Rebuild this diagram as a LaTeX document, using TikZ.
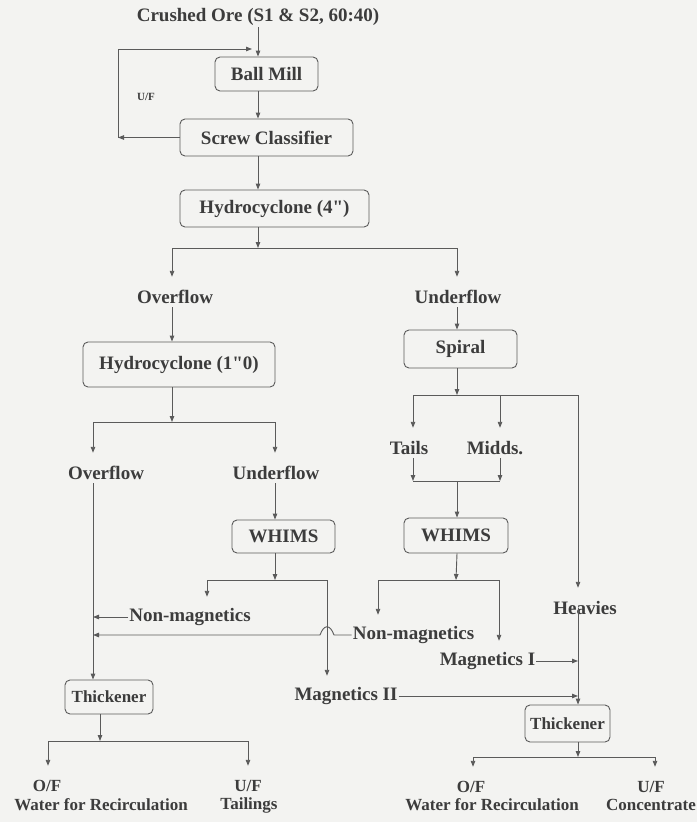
\documentclass[tikz,border=0pt]{standalone}
\usepackage{fontspec}
\setmainfont{Liberation Serif}[Ligatures=TeXOff]
\usetikzlibrary{arrows.meta,calc}
\definecolor{bgc}{HTML}{F3F3F1}
\definecolor{ink}{HTML}{3C3C3C}
\definecolor{linec}{HTML}{5A5A5A}
\begin{document}
\begin{tikzpicture}[x=1pt,y=-1pt,
  lbl/.style={text=ink, font=\fontsize{19}{22}\selectfont\bfseries, inner xsep=1pt, inner ysep=0pt, minimum height=20pt},
  slbl/.style={lbl, font=\fontsize{17}{19}\selectfont\bfseries},
  tiny/.style={lbl, font=\fontsize{11}{13}\selectfont\bfseries},
  box/.style={draw=linec, line width=0.9pt, rounded corners=5pt, text=ink, font=\fontsize{19}{22}\selectfont\bfseries, inner sep=0pt},
  sbox/.style={box, font=\fontsize{17}{19}\selectfont\bfseries},
  ln/.style={draw=linec, line width=0.9pt},
  arr/.style={ln, -{Triangle[length=6pt,width=4.5pt]}},
  tarr/.style={arr, shorten >=10pt}]
\fill[bgc] (0,0) rectangle (697,822);
\useasboundingbox (0,0) rectangle (697,822);

% columns
\coordinate (xa) at (258,0);
\coordinate (xo) at (172,0);
\coordinate (xl) at (93,0);
\coordinate (xu) at (275,0);
\coordinate (xm) at (327,0);
\coordinate (xs) at (457,0);
\coordinate (xh) at (578,0);
\coordinate (xt) at (100,0);

% labels and boxes
\node[lbl] (crushed) at (258,17) {Crushed Ore (S1 \& S2, 60:40)};
\node[box, minimum width=103pt, minimum height=34pt] (ballmill) at (266.5,74) {Ball Mill};
\node[box, minimum width=173pt, minimum height=37pt] (screw) at (266.5,137.5) {Screw Classifier};
\node[tiny] (uf) at (146,97) {U/F};
\node[box, minimum width=189pt, minimum height=37pt] (hc4) at (274.5,208.5) {Hydrocyclone (4")};

\node[lbl] (ov1) at (175,297) {Overflow};
\node[lbl] (un1) at (458,297) {Underflow};
\node[box, minimum width=192pt, minimum height=45pt] (hc1) at (179,364.5) {Hydrocyclone (1"0)};
\node[box, minimum width=113pt, minimum height=38pt] (spiral) at (460.5,349) {Spiral};

\node[lbl] (ov2) at (106,473) {Overflow};
\node[lbl] (un2) at (276,473) {Underflow};
\node[lbl] (tails) at (409,448) {Tails};
\node[lbl] (midds) at (495,448) {Midds.};

\node[box, minimum width=103pt, minimum height=33pt] (whimsL) at (283.5,536.5) {WHIMS};
\node[box, minimum width=104pt, minimum height=35pt] (whimsR) at (456,535.5) {WHIMS};

\node[lbl] (nonmagL) at (190,617) {Non-magnetics};
\node[lbl] (nonmagR) at (413.5,635) {Non-magnetics};
\node[lbl] (heavies) at (585,608) {Heavies};
\node[lbl] (magI) at (487.5,661) {Magnetics I};
\node[lbl] (magII) at (346,696) {Magnetics II};

\node[sbox, minimum width=88pt, minimum height=34pt] (thickL) at (109,697) {Thickener};
\node[sbox, minimum width=85pt, minimum height=37pt] (thickR) at (567.5,723.5) {Thickener};

\node[slbl] (ofL) at (47,786) {O/F};
\node[slbl] (waterL) at (101,805) {Water for Recirculation};
\node[slbl] (ufL) at (248,786) {U/F};
\node[slbl] (tailings) at (249,805) {Tailings};
\node[slbl] (ofR) at (471,787) {O/F};
\node[slbl] (waterR) at (492,805) {Water for Recirculation};
\node[slbl] (ufR) at (651,787) {U/F};
\node[slbl] (conc) at (651,805) {Concentrate};

% junctions
\coordinate (fbB) at (118,137.5);
\coordinate (fbT) at (118,49);
\coordinate (fbE) at (252,49);
\coordinate (j1) at (258,248);
\coordinate (j1L) at (172,248);
\coordinate (j1R) at (457,248);
\coordinate (j2) at (172,422);
\coordinate (j2L) at (93,422);
\coordinate (j2R) at (275,422);
\coordinate (j3) at (275,580);
\coordinate (j3L) at (207,580);
\coordinate (j3R) at (327,580);
\coordinate (h1) at (334,635);
\coordinate (h2) at (320,635);
\coordinate (j4) at (457,395);
\coordinate (j4L) at (413,395);
\coordinate (j4M) at (500,395);
\coordinate (j4R) at (578,395);
\coordinate (j5) at (457,481);
\coordinate (j5L) at (413,481);
\coordinate (j5R) at (500,481);
\coordinate (j6) at (456,580);
\coordinate (j6L) at (378,580);
\coordinate (j6R) at (499,580);
\coordinate (j7) at (578,757);
\coordinate (j7L) at (473,757);
\coordinate (j7R) at (655,757);
\coordinate (j8) at (100,741);
\coordinate (j8L) at (48,741);
\coordinate (j8R) at (248,741);

% top chain
\draw[arr] (crushed.south -| xa) -- (ballmill.north -| xa);
\draw[arr] (ballmill.south -| xa) -- (screw.north -| xa);
\draw[arr] (screw.south -| xa) -- (hc4.north -| xa);
\draw[arr] (screw.west) -- (fbB);
\draw[arr] (fbB) -- (fbT) -- (fbE);
\draw[arr] (hc4.south -| xa) -- (j1);
\draw[ln] (j1L) -- (j1R);
\draw[tarr] (j1L) -- (ov1.north -| j1L);
\draw[tarr] (j1R) -- (un1.north -| j1R);

% left branch
\draw[arr] (ov1.south -| xo) -- (hc1.north -| xo);
\draw[arr] (hc1.south -| xo) -- (j2);
\draw[ln] (j2L) -- (j2R);
\draw[tarr] (j2L) -- (ov2.north -| j2L);
\draw[tarr] (j2R) -- (un2.north -| j2R);
\draw[arr] (ov2.south -| xl) -- (thickL.north -| xl);
\draw[arr] (un2.south -| xu) -- (whimsL.north -| xu);
\draw[arr] (whimsL.south -| xu) -- (j3);
\draw[ln] (j3L) -- (j3R);
\draw[tarr] (j3L) -- (nonmagL.north -| j3L);
\draw[tarr] (j3R) -- (magII.north -| j3R);
\draw[arr] (nonmagL.west) -- (nonmagL.west -| xl);
\draw[arr] (nonmagR.west) -- (h1) .. controls (330,624) and (324,624) .. (h2) -- (nonmagR.west -| xl);
\draw[arr] (magII.east) -- (magII.east -| xh);

% right branch
\draw[arr] (un1.south -| xs) -- (spiral.north -| xs);
\draw[arr] (spiral.south -| xs) -- (j4);
\draw[ln] (j4L) -- (j4R);
\draw[tarr] (j4L) -- (tails.north -| j4L);
\draw[tarr] (j4M) -- (midds.north -| j4M);
\draw[tarr] (j4R) -- (heavies.north -| j4R);
\draw[arr] (tails.south -| j4L) -- (j5L);
\draw[arr] (midds.south -| j4M) -- (j5R);
\draw[ln] (j5L) -- (j5R);
\draw[arr] (j5) -- (whimsR.north -| xs);
\draw[arr] (whimsR.south -| xs) -- (j6);
\draw[ln] (j6L) -- (j6R);
\draw[tarr] (j6L) -- (nonmagR.north -| j6L);
\draw[tarr] (j6R) -- (magI.north -| j6R);
\draw[arr] (magI.east) -- (magI.east -| xh);
\draw[arr] (heavies.center -| xh) -- (thickR.north -| xh);

% thickener outputs
\draw[arr] (thickR.south -| xh) -- (j7);
\draw[ln] (j7L) -- (j7R);
\draw[tarr] (j7L) -- (ofR.north -| j7L);
\draw[tarr] (j7R) -- (ufR.north -| j7R);
\draw[arr] (thickL.south -| xt) -- (j8);
\draw[ln] (j8L) -- (j8R);
\draw[tarr] (j8L) -- (ofL.north -| j8L);
\draw[tarr] (j8R) -- (ufL.north -| j8R);
\end{tikzpicture}
\end{document}
